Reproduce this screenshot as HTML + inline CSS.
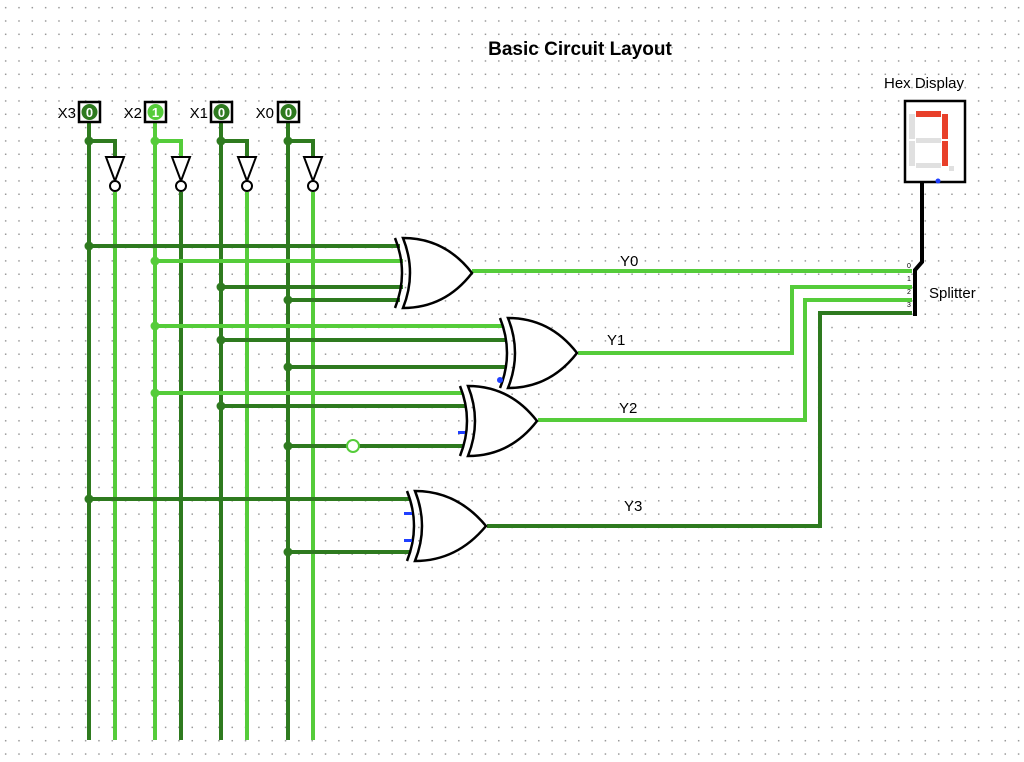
<!DOCTYPE html>
<html><head><style>
body{margin:0;width:1024px;height:762px;overflow:hidden;background:#fff;
background-image:radial-gradient(circle,#999 0.8px,transparent 1px);background-size:13.33px 13.33px;background-position:-1px 1px;}
svg{position:absolute;left:0;top:0}
text{font-family:"Liberation Sans",sans-serif}
</style></head><body>
<svg width="1024" height="762" viewBox="0 0 1024 762">
<g fill="none" stroke-width="4">
<!-- verticals -->
<path d="M89 122V740" stroke="#2e7a1f"/>
<path d="M155 122V740" stroke="#55cc3a"/>
<path d="M221 122V740" stroke="#2e7a1f"/>
<path d="M288 122V740" stroke="#2e7a1f"/>
<path d="M89 141H115V157" stroke="#2e7a1f"/>
<path d="M155 141H181V157" stroke="#55cc3a"/>
<path d="M221 141H247V157" stroke="#2e7a1f"/>
<path d="M288 141H313V157" stroke="#2e7a1f"/>
<path d="M115 192V740" stroke="#55cc3a"/>
<path d="M181 192V740" stroke="#2e7a1f"/>
<path d="M247 192V740" stroke="#55cc3a"/>
<path d="M313 192V740" stroke="#55cc3a"/>
<!-- gate inputs -->
<path d="M89 246H400" stroke="#2e7a1f"/>
<path d="M155 261H403" stroke="#55cc3a"/>
<path d="M221 287H403" stroke="#2e7a1f"/>
<path d="M288 300H400" stroke="#2e7a1f"/>
<path d="M155 326H503" stroke="#55cc3a"/>
<path d="M221 340H506" stroke="#2e7a1f"/>
<path d="M288 367H506" stroke="#2e7a1f"/>
<path d="M155 393H463" stroke="#55cc3a"/>
<path d="M221 406H466" stroke="#2e7a1f"/>
<path d="M288 446H463" stroke="#2e7a1f"/>
<path d="M89 499H410" stroke="#2e7a1f"/>
<path d="M288 552H410" stroke="#2e7a1f"/>
<!-- outputs -->
<path d="M472 271H912" stroke="#55cc3a"/>
<path d="M578 353H792V287H912" stroke="#55cc3a"/>
<path d="M538 420H805V300H912" stroke="#55cc3a"/>
<path d="M487 526H820V313H912" stroke="#2e7a1f"/>
</g>
<g fill="#2e7a1f"><circle cx="89" cy="141" r="4.5"/><circle cx="221" cy="141" r="4.5"/><circle cx="288" cy="141" r="4.5"/>
<circle cx="89" cy="246" r="4.5"/><circle cx="221" cy="287" r="4.5"/><circle cx="288" cy="300" r="4.5"/><circle cx="221" cy="340" r="4.5"/><circle cx="288" cy="367" r="4.5"/><circle cx="221" cy="406" r="4.5"/><circle cx="288" cy="446" r="4.5"/><circle cx="89" cy="499" r="4.5"/><circle cx="288" cy="552" r="4.5"/></g>
<g fill="#55cc3a"><circle cx="155" cy="141" r="4.5"/><circle cx="155" cy="261" r="4.5"/><circle cx="155" cy="326" r="4.5"/><circle cx="155" cy="393" r="4.5"/></g>
<circle cx="353" cy="446" r="6" fill="#fff" stroke="#55cc3a" stroke-width="2"/>
<!-- inverters -->
<g fill="#fff" stroke="#000" stroke-width="2">
<path d="M106 157H124L115 181Z"/><circle cx="115" cy="186" r="5"/>
<path d="M172 157H190L181 181Z"/><circle cx="181" cy="186" r="5"/>
<path d="M238 157H256L247 181Z"/><circle cx="247" cy="186" r="5"/>
<path d="M304 157H322L313 181Z"/><circle cx="313" cy="186" r="5"/>
</g>
<!-- input boxes -->
<g stroke="#000" stroke-width="2.5" fill="#fff">
<rect x="79" y="102" width="21" height="20"/><rect x="145" y="102" width="21" height="20"/><rect x="211" y="102" width="21" height="20"/><rect x="278" y="102" width="21" height="20"/></g>
<circle cx="89.5" cy="112" r="8" fill="#2e7a1f"/><circle cx="155.5" cy="112" r="8" fill="#55cc3a"/><circle cx="221.5" cy="112" r="8" fill="#2e7a1f"/><circle cx="288.5" cy="112" r="8" fill="#2e7a1f"/>
<g fill="#fff" font-size="13" font-weight="bold" text-anchor="middle"><text x="89.5" y="117">0</text><text x="155.5" y="117">1</text><text x="221.5" y="117">0</text><text x="288.5" y="117">0</text></g>
<g font-size="15" text-anchor="end"><text x="76" y="118">X3</text><text x="142" y="118">X2</text><text x="208" y="118">X1</text><text x="274" y="118">X0</text></g>
<!-- XOR gates -->
<g fill="#fff" stroke="#000" stroke-width="2.5">
<g transform="translate(395,238)"><path d="M0 0Q14 35 0 70" fill="none"/><path d="M8 0Q50 0 77 35Q50 70 8 70Q22 35 8 0Z"/></g>
<g transform="translate(500,318)"><path d="M0 0Q14 35 0 70" fill="none"/><path d="M8 0Q50 0 77 35Q50 70 8 70Q22 35 8 0Z"/></g>
<g transform="translate(460,386)"><path d="M0 0Q14 35 0 70" fill="none"/><path d="M8 0Q50 0 77 35Q50 70 8 70Q22 35 8 0Z"/></g>
<g transform="translate(407,491)"><path d="M0 0Q14 35 0 70" fill="none"/><path d="M8 0Q50 0 79 35Q50 70 8 70Q22 35 8 0Z"/></g>
</g>
<g fill="#2040ff"><circle cx="500" cy="380" r="3"/><rect x="458" y="431" width="7" height="3"/><rect x="404" y="512" width="8" height="3"/><rect x="404" y="539" width="8" height="3"/></g>
<!-- splitter -->
<path d="M915 316V270L922 262V182" stroke="#000" stroke-width="4" fill="none"/>
<g font-size="7"><text x="907" y="268">0</text><text x="907" y="281">1</text><text x="907" y="294">2</text><text x="907" y="307">3</text></g>
<text x="929" y="298" font-size="15">Splitter</text>
<!-- hex display -->
<rect x="905" y="101" width="60" height="81" fill="#fff" stroke="#000" stroke-width="2.5"/>
<g fill="#e0e0e0"><rect x="909" y="114" width="6" height="25"/><rect x="909" y="141" width="6" height="25"/><rect x="916" y="138" width="25" height="5"/><rect x="916" y="163" width="25" height="5"/><rect x="949" y="166" width="5" height="5"/></g>
<g fill="#e8402a"><rect x="916" y="111" width="25" height="6"/><rect x="942" y="114" width="6" height="25"/><rect x="942" y="141" width="6" height="25"/></g>
<circle cx="938" cy="181" r="2.5" fill="#2040ff"/>
<text x="924" y="88" font-size="15" text-anchor="middle">Hex Display</text>
<g font-size="15"><text x="620" y="266">Y0</text><text x="607" y="345">Y1</text><text x="619" y="413">Y2</text><text x="624" y="511">Y3</text></g>
<text x="580" y="55" font-size="19" font-weight="bold" text-anchor="middle">Basic Circuit Layout</text>
</svg>
</body></html>
